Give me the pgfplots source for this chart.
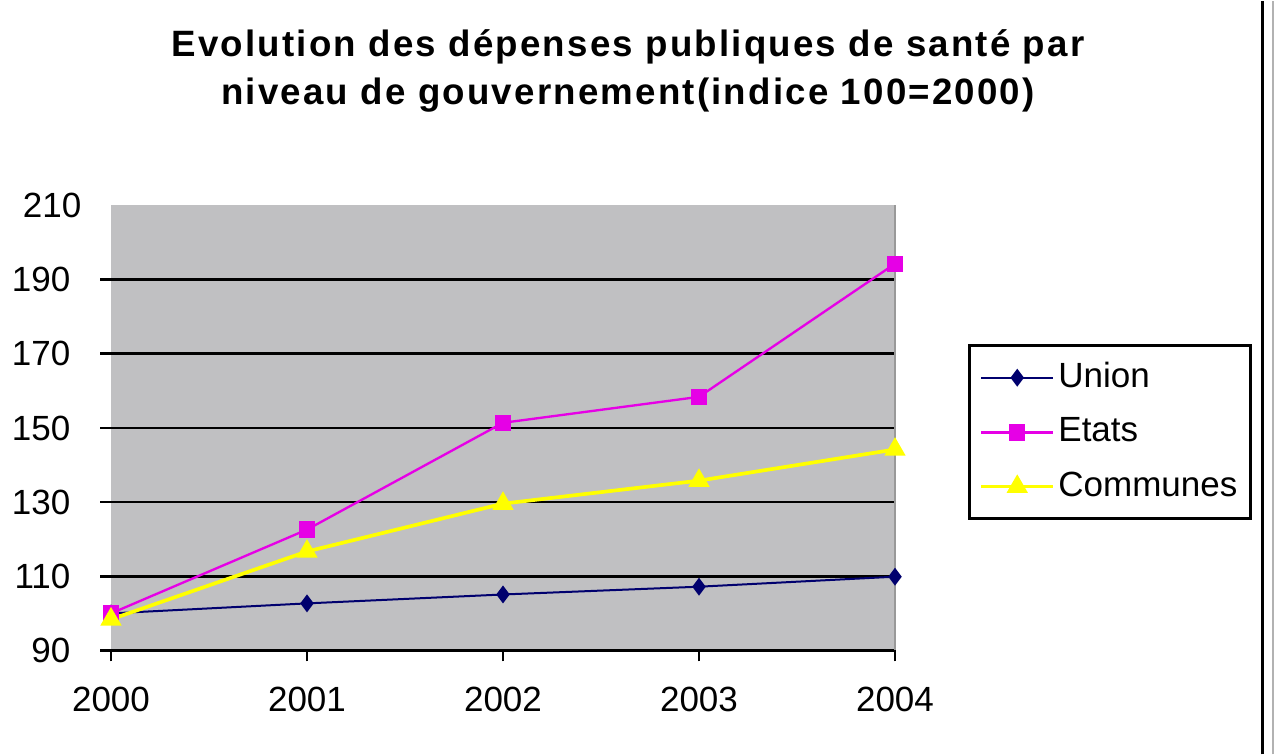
\documentclass[border=0pt]{standalone}
\usepackage{fontspec}
\setmainfont{Liberation Sans}
\usepackage{pgfplots}
\pgfplotsset{compat=1.18}

\definecolor{plotgray}{RGB}{192,192,194}
\definecolor{union}{RGB}{0,0,110}
\definecolor{etats}{RGB}{230,0,230}
\definecolor{communes}{RGB}{255,255,0}

\begin{document}
\begin{tikzpicture}
    % 1 px of the reference = 0.3pt
    \begin{axis}[
        scale only axis,
        width=235.2pt, height=133.5pt,
        xmin=2000, xmax=2004,
        ymin=90, ymax=210,
        xtick={2000,2001,2002,2003,2004},
        ytick={90,110,130,150,170,190},
        extra y ticks={210},
        extra y tick style={grid=none, major tick length=0pt},
        /pgf/number format/1000 sep={},
        /pgf/number format/assume math mode=true,
        axis line style={draw=none},
        axis background/.style={fill=plotgray},
        ymajorgrids=true,
        grid style={black, line width=0.8pt},
        tick align=outside,
        xtick pos=bottom, ytick pos=left,
        major tick length=3.3pt,
        tick style={black, line width=0.8pt},
        ticklabel style={font=\fontsize{10.5}{12}\selectfont, inner sep=0pt},
        yticklabel style={xshift=-8.7pt},
        xticklabel style={yshift=-7.6pt},
        clip=false,
        legend style={at={(1.093,0.688)}, anchor=north west,
            draw=black, line width=0.9pt,
            font=\fontsize{10.5}{12}\selectfont,
            inner xsep=3pt, inner ysep=4pt, row sep=5.5pt,
            nodes={inner sep=1pt}},
        legend cell align=left,
        legend image code/.code={
            \draw[mark repeat=2, mark phase=2]
                plot coordinates {(0pt,0pt) (10.8pt,0pt) (21.6pt,0pt)};
        },
    ]
        \draw[gray!80, line width=0.6pt] (rel axis cs:1,0) -- (rel axis cs:1,1);

        \addplot[union, line width=0.6pt, mark=diamond*, mark size=2.2pt,
            mark options={solid, fill=union}] coordinates {
            (2000,100) (2001,102.7) (2002,105.1) (2003,107.2) (2004,109.9)
        };
        \addplot[etats, line width=0.7pt, mark=square*, mark size=2.1pt,
            mark options={fill=etats}] coordinates {
            (2000,100) (2001,122.6) (2002,151.4) (2003,158.4) (2004,194.3)
        };
        \addplot[communes, line width=1.1pt, mark=triangle*, mark size=2.6pt,
            mark options={fill=communes}] coordinates {
            (2000,98.4) (2001,116.7) (2002,129.6) (2003,135.8) (2004,144.2)
        };

        \legend{Union, Etats, Communes}
    \end{axis}

    % title
    \node[anchor=base, font=\fontsize{11}{13}\selectfont\bfseries\addfontfeatures{LetterSpace=6}]
        at (155.1pt,178.2pt) {Evolution des dépenses publiques de santé par};
    \node[anchor=base, font=\fontsize{11}{13}\selectfont\bfseries\addfontfeatures{LetterSpace=6}]
        at (155.1pt,163.8pt) {niveau de gouvernement(indice 100=2000)};

    % frame lines at the right edge
    \draw[black, line width=0.9pt] (345.3pt,-31.2pt) -- (345.3pt,194.7pt);
    \draw[gray!60, line width=0.6pt] (348.6pt,-31.2pt) -- (348.6pt,194.7pt);

    \useasboundingbox (-33.3pt,-31.2pt) rectangle (350.1pt,194.7pt);
\end{tikzpicture}
\end{document}
